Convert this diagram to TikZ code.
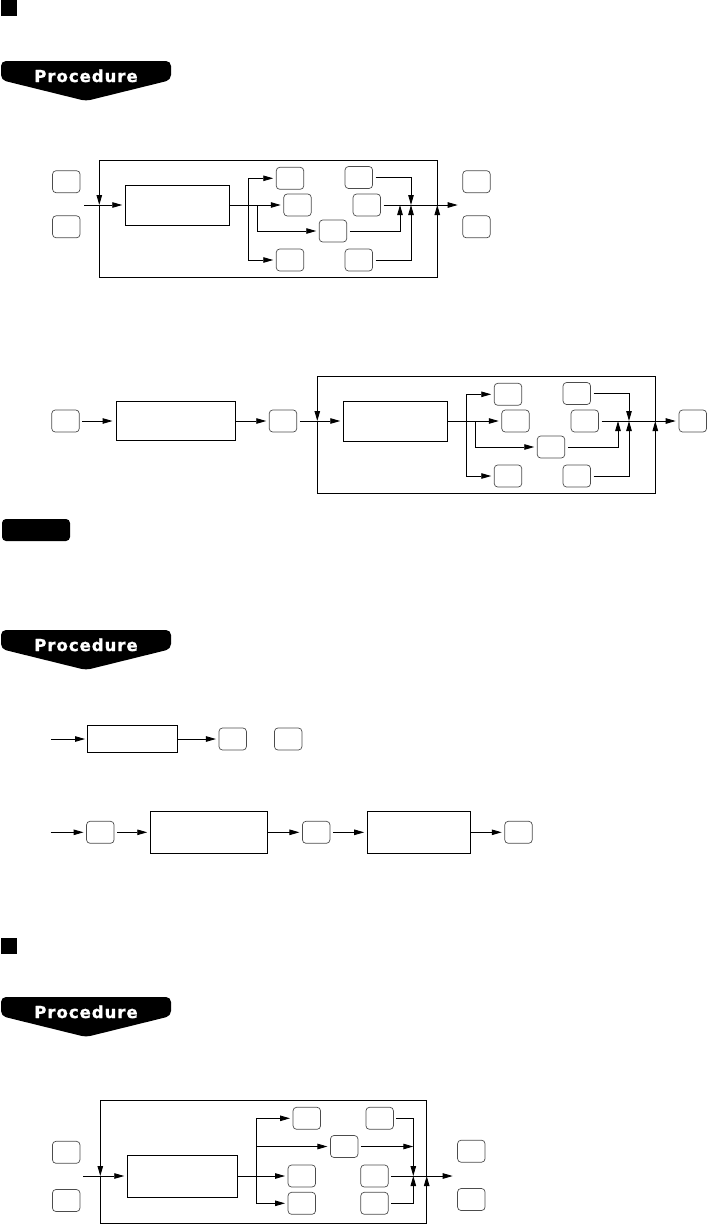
\documentclass[tikz,border=0pt]{standalone}
\usepackage{fontspec}
\usepackage{tikz}
\usetikzlibrary{arrows.meta}
\newfontfamily\bannerfont[LetterSpace=6,FakeBold=1.2]{DejaVu Sans Bold}

\tikzset{
  key/.style={draw=black!70,line width=0.7pt,rounded corners=3.5pt,
    minimum width=27.5pt,minimum height=22pt,inner sep=0pt,outer sep=3pt},
  entry/.style={draw,line width=0.9pt,inner sep=0pt},
  arr/.style={line width=0.9pt,-{Triangle[length=10pt,width=5.5pt]}},
  bannertext/.style={text=white,anchor=base,inner sep=0pt,
    font=\bannerfont\fontsize{16.5}{18}\selectfont}
}

\begin{document}
\begin{tikzpicture}[x=1pt,y=-1pt]
  \useasboundingbox (0,0) rectangle (707,1224);
  % section marks and banners
  \fill (1,0) rectangle (17,16);
  \fill (1,938) rectangle (17,954);
  \foreach \by/\bn in {0/proc1,569/proc2,936/proc3}{
    \fill[rounded corners=5pt] (1,{61+\by}) -- (171,{61+\by}) -- (171,{80+\by})
      -- (86,{101+\by}) -- (1,{80+\by}) -- cycle;
    \node[bannertext] (\bn) at (86,{82+\by}) {Procedure};
  }
  \fill[rounded corners=4pt] (2,519) rectangle (70,541);

  % repeat loop, used twice
  \foreach \dx/\dy/\p in {0/0/p1,218/216/p2}{
    \begin{scope}[shift={(\dx,\dy)},name prefix=\p-]
      \node[entry,minimum width=104pt,minimum height=40pt] (box) at (177.7,205) {};
      \node[key] (a1) at (290,178.3) {};
      \node[key] (a2) at (297.5,205) {};
      \node[key] (a3) at (333,231) {};
      \node[key] (a4) at (290,260) {};
      \node[key] (b1) at (358.8,177.5) {};
      \node[key] (b2) at (366.8,205) {};
      \node[key] (b4) at (358.8,260) {};
      \coordinate (jin) at (99.3,205);
      \coordinate (jout) at (437.3,205);
      \coordinate (ftop) at (0,160);
      \coordinate (fbot) at (0,277);
      \coordinate (br1) at (248.3,205);
      \coordinate (br2) at (257.3,205);
      \coordinate (ja) at (400,205);
      \coordinate (jb) at (411,205);
      \coordinate (out) at (457.7,205);
      \draw[arr] (jout) -- (jout |- ftop) -- (jin |- ftop) -- (jin);
      \draw[arr] (jin) -- (jin |- fbot) -- (jout |- fbot) -- (jout);
      \draw[arr] (box) -- (a2);
      \draw[arr] (br1) |- (a1);
      \draw[arr] (br1) |- (a4);
      \draw[arr] (br2) |- (a3);
      \draw[arr] (b1) -| (jb);
      \draw[arr] (b4) -| (jb);
      \draw[arr] (a3) -| (ja);
      \draw[arr] (b2) -- (out);
    \end{scope}
  }

  % first chart
  \node[key] (kin1) at (66.3,181.7) {};
  \node[key] (kin2) at (66.3,226.8) {};
  \node[key] (kout1) at (476.5,181.7) {};
  \node[key] (kout2) at (476.5,226.8) {};
  \coordinate (in1) at (84,205);
  \draw[arr,shorten >=3pt] (in1) -- (p1-box);

  % second chart
  \node[key] (k21) at (65.5,421) {};
  \node[entry,minimum width=119pt,minimum height=39pt] (box21) at (175.5,421) {};
  \node[key] (k22) at (283,421) {};
  \node[key] (k23) at (692.8,421) {};
  \draw[arr,shorten >=3pt] (k21) -- (box21);
  \draw[arr] (box21) -- (k22);
  \draw[arr,shorten >=3pt] (k22) -- (p2-box);

  % third chart
  \coordinate (in3) at (51,739);
  \node[entry,minimum width=90pt,minimum height=27pt] (box31) at (132.5,739) {};
  \node[key] (k31) at (232.7,739) {};
  \node[key] (k32) at (288.2,739) {};
  \draw[arr,shorten >=2pt] (in3) -- (box31);
  \draw[arr] (box31) -- (k31);

  % fourth chart
  \coordinate (in4) at (50.7,832.3);
  \node[key] (k41) at (100.3,832.3) {};
  \node[entry,minimum width=117pt,minimum height=41.6pt] (box41) at (209.2,832.3) {};
  \node[key] (k42) at (316.2,832.3) {};
  \node[entry,minimum width=102.3pt,minimum height=41.6pt] (box42) at (418.8,832.3) {};
  \node[key] (k43) at (518.5,832.3) {};
  \draw[arr] (in4) -- (k41);
  \draw[arr,shorten >=3pt] (k41) -- (box41);
  \draw[arr] (box41) -- (k42);
  \draw[arr,shorten >=3pt] (k42) -- (box42);
  \draw[arr] (box42) -- (k43);

  % fifth chart
  \node[key] (k51) at (66.2,1152.3) {};
  \node[key] (k52) at (66.2,1200.5) {};
  \node[entry,minimum width=110pt,minimum height=42pt] (box5) at (182.7,1176) {};
  \node[key] (c1) at (306.8,1118.3) {};
  \node[key] (c2) at (344.2,1146.5) {};
  \node[key] (c3) at (301.8,1176) {};
  \node[key] (c4) at (301.8,1203.3) {};
  \node[key] (d1) at (379.7,1118.3) {};
  \node[key] (d3) at (374.5,1176) {};
  \node[key] (d4) at (374.5,1203.3) {};
  \node[key] (k53) at (471.3,1151.2) {};
  \node[key] (k54) at (471.3,1199.5) {};
  \coordinate (in5) at (83.3,1176);
  \coordinate (jin5) at (100.3,1176);
  \coordinate (jout5) at (426.7,1176);
  \coordinate (ftop5) at (0,1100.7);
  \coordinate (fbot5) at (0,1223.2);
  \coordinate (br5) at (256.7,1176);
  \coordinate (jn5) at (413.3,1176);
  \coordinate (out5) at (452.7,1176);
  \draw[arr,shorten >=3pt] (in5) -- (box5);
  \draw[arr] (jout5) -- (jout5 |- ftop5) -- (jin5 |- ftop5) -- (jin5);
  \draw[arr] (jin5) -- (jin5 |- fbot5) -- (jout5 |- fbot5) -- (jout5);
  \draw[arr] (box5) -- (c3);
  \draw[arr] (br5) |- (c1);
  \draw[arr] (br5) |- (c2);
  \draw[arr] (br5) |- (c4);
  \draw[arr] (c2) -- (c2 -| jn5);
  \draw[arr] (d1) -| (jn5);
  \draw[arr] (d4) -| (jn5);
  \draw[arr] (d3) -- (out5);
\end{tikzpicture}
\end{document}
